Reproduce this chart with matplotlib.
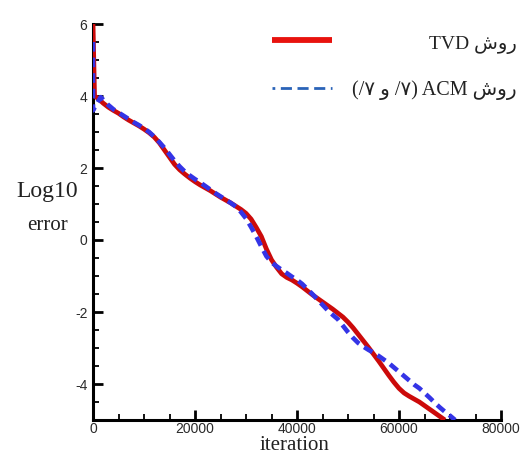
import matplotlib
matplotlib.use("Agg")
import matplotlib.pyplot as plt
from matplotlib.ticker import MultipleLocator

plt.rcParams["axes.unicode_minus"] = False

# Convergence history: log10 of the residual error versus iteration
tvd_iter = [0, 300, 1000, 2000, 3000, 4000, 5000, 6000, 7000, 8000, 9000,
            10000, 11000, 12000, 13000, 14000, 15000, 16000, 17000, 18000,
            19000, 20000, 21000, 22000, 23000, 24000, 25000, 26000, 27000,
            28000, 29000, 30000, 31000, 32000, 33000, 34000, 35000, 36000,
            37000, 38000, 39000, 40000, 41000, 42000, 43000, 44000, 45000,
            46000, 47000, 48000, 49000, 50000, 51000, 52000, 53000, 54000,
            55000, 56000, 57000, 58000, 59000, 60000, 61000, 62000, 63000,
            64000, 65000, 66000, 67000, 68000, 69000]
tvd_err = [6.0, 4.0, 3.93, 3.8, 3.69, 3.6, 3.52, 3.42, 3.33, 3.25, 3.17,
           3.08, 2.98, 2.86, 2.7, 2.5, 2.3, 2.1, 1.95, 1.83,
           1.72, 1.62, 1.53, 1.45, 1.37, 1.28, 1.19, 1.11, 1.03,
           0.94, 0.85, 0.74, 0.58, 0.35, 0.1, -0.25, -0.55, -0.76,
           -0.94, -1.04, -1.11, -1.2, -1.3, -1.41, -1.52, -1.62, -1.72,
           -1.82, -1.92, -2.03, -2.14, -2.28, -2.44, -2.62, -2.8, -2.98,
           -3.17, -3.36, -3.56, -3.76, -3.95, -4.12, -4.25, -4.34, -4.42,
           -4.5, -4.6, -4.7, -4.8, -4.9, -5.0]

acm_iter = [0, 0, 1500, 3000, 4000, 5000, 6000, 7000, 8000, 9000, 10000,
            11000, 12000, 13000, 14000, 15000, 16000, 17000, 18000, 19000,
            20000, 21000, 22000, 23000, 24000, 25000, 26000, 27000, 28000,
            29000, 30000, 31000, 32000, 33000, 34000, 35000, 36000, 37000,
            38000, 39000, 40000, 41000, 42000, 43000, 44000, 45000, 46000,
            47000, 48000, 49000, 50000, 51000, 52000, 53000, 54000, 55000,
            56000, 57000, 58000, 59000, 60000, 61000, 62000, 63000, 64000,
            65000, 66000, 67000, 68000, 69000, 70000, 71000]
acm_err = [5.5, 3.6, 3.97, 3.75, 3.63, 3.54, 3.45, 3.36, 3.27, 3.19, 3.1,
           3.0, 2.87, 2.72, 2.56, 2.38, 2.2, 2.04, 1.9, 1.79,
           1.69, 1.6, 1.5, 1.4, 1.3, 1.21, 1.12, 1.03, 0.93,
           0.78, 0.6, 0.36, 0.1, -0.18, -0.45, -0.62, -0.73, -0.83,
           -0.92, -1.02, -1.11, -1.22, -1.36, -1.5, -1.65, -1.8, -1.95,
           -2.08, -2.2, -2.38, -2.56, -2.72, -2.86, -2.96, -3.05, -3.13,
           -3.22, -3.32, -3.42, -3.54, -3.66, -3.78, -3.9, -4.02, -4.12,
           -4.25, -4.38, -4.52, -4.65, -4.77, -4.88, -5.0]

x_ticks = [0, 20000, 40000, 60000, 80000]
y_ticks = [-4, -2, 0, 2, 4, 6]

label_tvd = "TVD شور"
label_acm = "(/۷ و /۷) ACM شور"

text_fonts = ["Liberation Serif", "DejaVu Sans"]

fig = plt.figure(figsize=(5.25, 4.55), dpi=100)
ax = fig.add_axes([93 / 525, 35 / 455, 408 / 525, 396 / 455])

ax.plot(tvd_iter, tvd_err, color="#cc0a0a", lw=3.4, solid_capstyle="butt",
        solid_joinstyle="round", zorder=3)
ax.plot(acm_iter, acm_err, color="#3434e6", lw=3.3,
        linestyle=(0, (2.1, 1.3)), dash_capstyle="butt",
        dash_joinstyle="round", zorder=4)

ax.set_xlim(0, 80000)
ax.set_ylim(-5, 6)
ax.set_xticks(x_ticks)
ax.set_yticks(y_ticks)
ax.xaxis.set_minor_locator(MultipleLocator(5000))
ax.yaxis.set_minor_locator(MultipleLocator(0.5))

for side in ("top", "right"):
    ax.spines[side].set_visible(False)
for side in ("left", "bottom"):
    ax.spines[side].set_linewidth(2.2)
    ax.spines[side].set_color("black")

ax.tick_params(which="major", direction="in", length=7, width=2.0,
               labelsize=10, labelcolor="#2a2a2a", color="black")
ax.tick_params(which="minor", direction="in", length=4.5, width=1.3,
               color="black")
ax.tick_params(axis="y", which="major", pad=4)
ax.tick_params(axis="x", which="major", pad=1.5)
for lab in ax.get_xticklabels() + ax.get_yticklabels():
    lab.set_fontfamily("Liberation Sans")

# axis titles
fig.text(47 / 525, 1 - 191 / 455, "Log10", ha="center", va="center",
         fontsize=17, family="Liberation Serif", color="#222222")
fig.text(47 / 525, 1 - 225 / 455, "error", ha="center", va="center",
         fontsize=15, family="Liberation Serif", color="#222222")
fig.text(295 / 525, 1 - 446 / 455, "iteration", ha="center", va="center",
         fontsize=15, family="Liberation Serif", color="#222222")

# legend
fig.lines.append(plt.Line2D([272 / 525, 332 / 525], [1 - 40 / 455, 1 - 40 / 455],
                            transform=fig.transFigure, color="#e8120e",
                            lw=4.2, solid_capstyle="butt"))
fig.lines.append(plt.Line2D([272 / 525, 332 / 525], [1 - 88 / 455, 1 - 88 / 455],
                            transform=fig.transFigure, color="#2a63b8",
                            lw=2.0, linestyle=(0, (1, 2, 4, 2, 4, 2, 4, 2, 4, 2, 4, 2)),
                            dash_capstyle="butt"))
fig.text(517 / 525, 1 - 45 / 455, label_tvd, ha="right", va="center",
         fontsize=14, family=text_fonts, color="#222222")
fig.text(517 / 525, 1 - 90 / 455, label_acm, ha="right", va="center",
         fontsize=14.5, family=text_fonts, color="#222222")

fig.savefig("out.png", dpi=100, facecolor="white")
